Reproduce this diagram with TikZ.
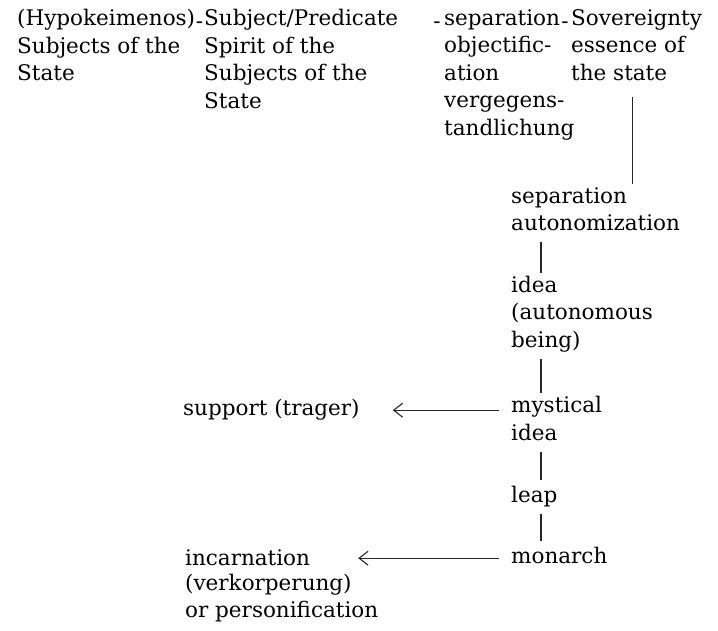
\documentclass[tikz,border=0pt]{standalone}
\usepackage{fontspec}
\setmainfont{DejaVu Serif}
\usepackage{tikz}
\usetikzlibrary{arrows.meta}

\tikzset{
  txt/.style={anchor=north west, inner sep=0pt, align=left, text=black,
    font=\fontsize{21.5}{27.5}\selectfont,
    execute at begin node=\strut, execute at end node=\strut},
  bar/.style={draw=black!85, line width=1.1pt},
  link/.style={bar, shorten <=3pt, shorten >=3pt},
  arr/.style={bar, -{Straight Barb[length=9pt,width=14pt]}, shorten <=12pt}
}

\begin{document}
\begin{tikzpicture}[x=1pt,y=-1pt]

    \useasboundingbox (0,0) rectangle (718,630);

    % top row
    \node[txt] (hypo)   at (17,9.25)  {(Hypokeimenos)\\Subjects of the\\State};
    \node[txt] (subj)   at (204,9.25) {Subject/Predicate\\Spirit of the\\Subjects of the\\State};
    \node[txt] (sepobj) at (444,9.25) {separation\\objectific-\\ation\\vergegens-\\tandlichung};
    \node[txt] (sov)    at (571,9.25) {Sovereignty\\essence of\\the state};
    \node[txt, anchor=base] (dashA) at (199.5,28.5) {-};
    \node[txt, anchor=base] (dashB) at (437,28.5) {-};
    \node[txt, anchor=base] (dashC) at (565,28.5) {-};

    % middle column
    \node[txt] (sepauto) at (511,187.25) {separation\\autonomization};
    \node[txt] (idea)    at (511,275.75) {idea\\(autonomous\\being)};
    \node[txt] (mystic)  at (511,396.25) {mystical\\idea};
    \node[txt] (leap)    at (511,483.25) {leap};
    \node[txt] (monarch) at (511,544.25) {monarch};

    % left side
    \node[txt] (support)    at (183,396.25) {support (trager)};
    \node[txt] (incarn)     at (185,545.75) {incarnation};
    \node[txt] (incarnmore) at (incarn.south west) {(verkorperung)\\or personification};

    \draw[link, shorten <=8pt] ([xshift=-4pt]sov.south) -- ([xshift=-4pt]sov.south |- sepauto.north);
    \draw[link] ([xshift=30pt]sepauto.south west) -- ([xshift=30pt]idea.north west);
    \draw[link] ([xshift=30pt]idea.south west) -- ([xshift=30pt]mystic.north west);
    \draw[link] ([xshift=30pt]mystic.south west) -- ([xshift=30pt]leap.north west);
    \draw[link] ([xshift=30pt]leap.south west) -- ([xshift=30pt]monarch.north west);

    \draw[arr, shorten >=33pt] (support.east -| mystic.west) -- (support.east);
    \draw[arr, shorten >=48pt] (monarch.west) -- (monarch.west -| incarn.east);

\end{tikzpicture}
\end{document}
